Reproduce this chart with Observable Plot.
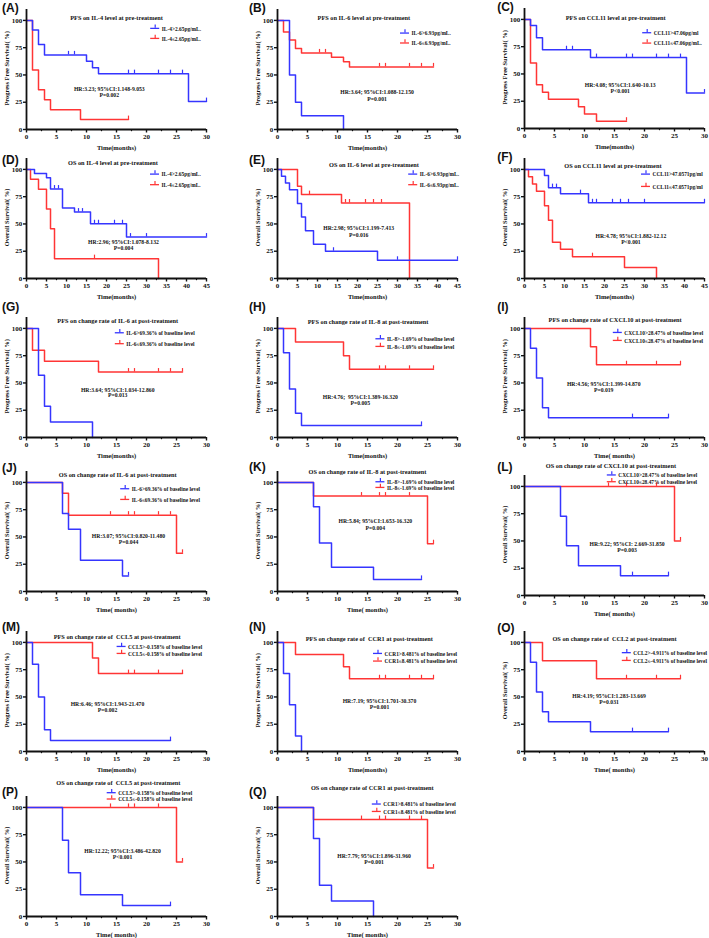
<!DOCTYPE html>
<html><head><meta charset="utf-8">
<script src="https://cdn.jsdelivr.net/npm/d3@7"></script>
<script src="https://cdn.jsdelivr.net/npm/@observablehq/plot@0.6"></script>
<style>
html,body{margin:0;padding:0;background:#fff;overflow:hidden}
#fig{position:relative;width:709px;height:938px;overflow:hidden;background:#fff}
</style></head><body><div id="fig"></div>
<script>
// ---------- Kaplan–Meier data (t = event times, s = survival %, c = censor times) ----------
const A_hi = {t:[0,1,2,3,10,11,12,27], s:[100,91.1,77.9,68.4,62.6,56.7,51.2,25.6], c:[7,8,17,18,22,24,26,30]};
const A_lo = {t:[0,1,2,3,4,9], s:[100,54.5,36.4,27.3,18.2,9.1], c:[17]};
const B_hi = {t:[0,2,3,4,11], s:[100,50,25,12.5,0], c:[]};
const B_lo = {t:[0,1,2,3,4,9,11,12], s:[100,89.3,82,74.2,70.2,66.3,62,57.4], c:[7,8,17,18,22,24,26]};
const C_hi = {t:[0,1,2,3,11,27], s:[100,94.4,83.3,72.2,65,32.5], c:[7,8,12,17,18,22,24,26,30]};
const C_lo = {t:[0,1,2,3,4,9,10,12], s:[100,60,40,33.3,26.7,20,13.3,6.7], c:[17]};
const D_hi = {t:[0,2,5,6,9,12,16,25], s:[100,96.2,92.3,82,64.6,60.9,50.2,38], c:[7,8,13,14,17,18,22,24,26,30,45]};
const D_lo = {t:[0,1,3,5,6,7,33], s:[100,90.9,81.8,63.6,45.5,18.2,0], c:[17]};
const E_hi = {t:[0,1,2,3,5,6,7,9,12,25], s:[100,93.8,87.5,81.3,68.8,56.3,43.8,31.3,25,16.7], c:[14,30,45]};
const E_lo = {t:[0,5,6,16,33], s:[100,84.6,76.9,69.2,0], c:[8,17,18,22,24,26]};
const F_hi = {t:[0,5,6,9,16], s:[100,94.4,83.3,77.8,69.4], c:[7,8,14,17,18,22,24,26,30,45]};
const F_lo = {t:[0,1,2,3,5,6,7,9,12,25,33], s:[100,93.3,86.7,80,66.7,53.3,33.3,26.7,20,10,0], c:[17]};
const G_hi = {t:[0,2,3,4,11], s:[100,57.1,28.6,14.3,0], c:[]};
const G_lo = {t:[0,1,3,12], s:[100,80,70,60], c:[17,18,22,24,26]};
const H_hi = {t:[0,1,2,3,4], s:[100,77.8,44.4,22.2,11.1], c:[24]};
const H_lo = {t:[0,3,11,12], s:[100,87.5,75,62.5], c:[17,18,22,26]};
const I_hi = {t:[0,1,2,3,4], s:[100,81.8,54.5,27.3,18.2], c:[18,24]};
const I_lo = {t:[0,11,12], s:[100,83.3,66.7], c:[17,22,26]};
const J_hi = {t:[0,6,7,9,16], s:[100,71.4,57.1,28.6,14.3], c:[17]};
const J_lo = {t:[0,6,7,25], s:[100,90,70,35], c:[14,17,18,22,24,26]};
const K_hi = {t:[0,6,7,9,16], s:[100,77.8,44.4,22.2,11.1], c:[24]};
const K_lo = {t:[0,6,25], s:[100,87.5,43.8], c:[14,17,18,22,26]};
const L_hi = {t:[0,6,7,9,16], s:[100,72.7,45.5,27.3,18.2], c:[18,24]};
const L_lo = {t:[0,25], s:[100,50], c:[14,17,22,26]};
const M_hi = {t:[0,1,2,3,4], s:[100,80,50,20,10], c:[24]};
const M_lo = {t:[0,11,12], s:[100,85.7,71.4], c:[17,18,22,26]};
const N_hi = {t:[0,1,2,3,4], s:[100,71.4,42.9,14.3,0], c:[]};
const N_lo = {t:[0,3,11,12], s:[100,88.9,77.8,66.7], c:[17,18,22,24,26]};
const O_hi = {t:[0,1,2,3,4,11], s:[100,81.8,54.5,36.4,27.3,18.2], c:[18,24]};
const O_lo = {t:[0,3,12], s:[100,83.3,66.7], c:[17,22,26]};
const P_hi = {t:[0,6,7,9,16], s:[100,70,40,20,10], c:[24]};
const P_lo = {t:[0,25], s:[100,50], c:[14,17,18,22,26]};
const Q_hi = {t:[0,6,7,9,16], s:[100,71.4,28.6,14.3,0], c:[]};
const Q_lo = {t:[0,6,25], s:[100,88.9,44.4], c:[14,17,18,22,24,26]};

const seriesHi = [A_hi,B_hi,C_hi,D_hi,E_hi,F_hi,G_hi,H_hi,I_hi,J_hi,K_hi,L_hi,M_hi,N_hi,O_hi,P_hi,Q_hi];
const seriesLo = [A_lo,B_lo,C_lo,D_lo,E_lo,F_lo,G_lo,H_lo,I_lo,J_lo,K_lo,L_lo,M_lo,N_lo,O_lo,P_lo,Q_lo];

// ---------- texts ----------
const panelIds = ["A","B","C","D","E","F","G","H","I","J","K","L","M","N","O","P","Q"];
const titles = [
 "PFS on IL-4 level at pre-treatment","PFS on IL-6 level at pre-treatment","PFS on CCL11 level at pre-treatment",
 "OS on IL-4 level at pre-treatment","OS on IL-6 level at pre-treatment","OS on CCL11 level at pre-treatment",
 "PFS on change rate of IL-6 at post-treatment","PFS on change rate of IL-8 at post-treatment","PFS on change rate of CXCL10 at post-treatment",
 "OS on change rate of IL-6 at post-treatment","OS on change rate of IL-8 at post-treatment","OS on change rate of CXCL10 at post-treatment",
 "PFS on change rate of  CCL5 at post-treatment","PFS on change rate of  CCR1 at post-treatment","OS on change rate of  CCL2 at post-treatment",
 "OS on change rate of  CCL5 at post-treatment","OS on change rate of CCR1 at post-treatment"];
const hiLabels = ["IL-4>2.65pg/mL.","IL-6>6.93pg/mL.","CCL11>47.06pg/ml","IL-4>2.65pg/mL.","IL-6>6.93pg/mL.","CCL11>47.0571pg/ml",
 "IL-6>69.36% of baseline level","IL-8>-1.69% of baseline level","CXCL10>28.47% of baseline level",
 "IL-6>69.36% of baseline level","IL-8>-1.69% of baseline level","CXCL10>28.47% of baseline level",
 "CCL5>-0.158% of baseline level","CCR1>8.481% of baseline level","CCL2>-4.911% of baseline level",
 "CCL5>-0.158% of baseline level","CCR1>8.481% of baseline level"];
const loLabels = ["IL-4≤2.65pg/mL.","IL-6≤6.93pg/mL.","CCL11≤47.06pg/mL.","IL-4≤2.65pg/mL.","IL-6≤6.93pg/mL.","CCL11≤47.0571pg/ml",
 "IL-6≤69.36% of baseline level","IL-8≤-1.69% of baseline level","CXCL10≤28.47% of baseline level",
 "IL-6≤69.36% of baseline level","IL-8≤-1.69% of baseline level","CXCL10≤28.47% of baseline level",
 "CCL5≤-0.158% of baseline level","CCR1≤8.481% of baseline level","CCL2≤-4.911% of baseline level",
 "CCL5≤-0.158% of baseline level","CCR1≤8.481% of baseline level"];
const hrTexts = ["HR:3.23; 95%CI:1.148-9.053","HR:3.64; 95%CI:1.088-12.150","HR:4.08; 95%CI:1.640-10.13",
 "HR:2.96; 95%CI:1.078-8.132","HR:2.98; 95%CI:1.199-7.413","HR:4.78; 95%CI:1.882-12.12",
 "HR:3.64; 95%CI:1.034-12.860","HR:4.76;  95%CI:1.389-16.320","HR:4.56; 95%CI:1.399-14.870",
 "HR:3.07; 95%CI:0.820-11.480","HR:5.84; 95%CI:1.653-16.320","HR:9.22; 95%CI: 2.669-31.850",
 "HR:6.46; 95%CI:1.943-21.470","HR:7.19; 95%CI:1.701-30.370","HR:4.19; 95%CI:1.283-13.669",
 "HR:12.22; 95%CI:3.486-42.820","HR:7.79; 95%CI:1.896-31.960"];
const pTexts = ["P=0.002","P=0.001","P<0.001","P=0.004","P=0.016","P<0.001","P=0.013","P=0.005","P=0.019",
 "P=0.044","P=0.004","P=0.003","P=0.002","P=0.001","P=0.031","P<0.001","P=0.001"];
const kinds = ["PFS","PFS","PFS","OS","OS","OS","PFS","PFS","PFS","OS","OS","OS","PFS","PFS","OS","OS","OS"];
const xMax = [30,30,30,45,45,45,30,30,30,30,30,30,30,30,30,30,30];
const xLabels = ["Time(months)","Time(months)","Time(months)","Time(months)","Time(months)","Time(months)",
 "Time(months)","Time(months)","Time( months)","Time( months)","Time( months)","Time( months)",
 "Time(months)","Time(months)","Time( months)","Time( months)","Time( months)"];
const yLabels = {PFS:"Progress Free Survival( %)", OS:"Overall Survival( %)"};

// ---------- layout (pixels for frame origin; annotation anchors in data units) ----------
const colX0 = [26, 276.7, 524];
const rowY0 = [128.5, 278.3, 436.7, 590.7, 751.3, 916.3];
const panelCol = [0,1,2,0,1,2,0,1,2,0,1,2,0,1,2,0,1];
const panelRow = [0,0,0,1,1,1,2,2,2,3,3,3,4,4,4,5,5];
const panelY0Fix = {C:128, L:595};
const letterDx = [-24.5, -28.4, -27.3];
const letterY = [111.5,111.5,111.3,108.5,108.5,111.6,119.3,119.3,119.3,112.8,113.7,117.7,114.3,114.3,112.8,114.3,114.3];
const titlePos = [[15,102.2],[14.4,102.2],[15.2,101.6],[21.6,105.5],[24.1,103.7],[22.1,103],[15.2,106.7],[15.1,105.5],[15.1,107.7],
 [15.2,107],[15,109.8],[14.4,118.3],[15.1,105],[15.3,103.1],[15,103.1],[15.3,122],[15.8,117.8]];
const legendPos = [[20.7,92.7,83.5],[20.5,88.4,79.3],[19.7,87.8,78.3],[31,95.7,86],[32.8,95.7,86],[29.25,95.7,84.4],
 [14.8,96,86],[16.4,90.5,83.5],[14.8,96.3,89],[15.7,94.2,84.4],[16.4,100.6,95.4],[13.8,110.5,104.3],
 [15.1,96.3,89.9],[16,89.9,82.9],[16.3,90.6,83.5],[13.45,113.5,107.7],[15.8,103.1,96.3]];
const hrPos = [[13.8,37.1,31.6],[16.6,33.9,27.9],[15.95,39.4,33.9],[24.25,33.3,27.5],[20.3,46.5,40.1],[26.6,39.2,33.3],
 [15.2,43.8,38.5],[13.8,37,31.8],[13.2,49,43.5],[17,50.5,45],[16.3,64.9,58.4],[17.1,47.2,41.7],
 [13.5,43.5,38],[17,46.2,40.4],[14.1,51.1,45.6],[16,59.6,54.1],[16.1,55.7,50.2]];

const BLUE = "#3535ff", RED = "#ff3535";
const SERIF = "'Liberation Serif','Times New Roman',serif";
const mL = 26, mR = 5, mT = 22, mB = 24, FW = 180, FH = 120;

function stepPoints(ser) {
  const pts = ser.t.map((t, i) => ({t, s: ser.s[i]}));
  const end = Math.max(ser.t[ser.t.length - 1], ...ser.c);
  pts.push({t: end, s: ser.s[ser.s.length - 1]});
  return pts;
}
function survAt(ser, time) {
  let v = ser.s[0];
  for (let i = 0; i < ser.t.length; i++) if (ser.t[i] <= time) v = ser.s[i];
  return v;
}
function censors(ser) { return ser.c.map(c => ({t: c, s: survAt(ser, c)})); }

const fig = document.getElementById("fig");

panelIds.forEach((id, i) => {
  const xmax = xMax[i];
  const col = panelCol[i];
  const x0 = colX0[col];
  const y0 = panelY0Fix[id] ?? rowY0[panelRow[i]];
  const u = xmax / FW; // months per pixel
  const step = 5;
  const major = d3.range(0, xmax + 0.01, step);
  const minor = d3.range(step / 2, xmax, step);
  const hi = seriesHi[i], lo = seriesLo[i];
  const [lx, ly1, ly2] = legendPos[i];
  const [hx, hy, py] = hrPos[i];
  const [tx, ty] = titlePos[i];
  const legSym = (ly, color) => [
    Plot.ruleY([ly], {x1: lx, x2: lx + 9 * u, stroke: color, strokeWidth: 1.3}),
    Plot.ruleX([lx + 4.5 * u], {y1: ly, y2: ly + 3, stroke: color, strokeWidth: 1.2})
  ];
  const svg = Plot.plot({
    width: mL + FW + mR, height: mT + FH + mB,
    marginLeft: mL, marginRight: mR, marginTop: mT, marginBottom: mB,
    x: {domain: [0, xmax]},
    y: {domain: [0, 110]},
    style: {fontFamily: SERIF, fontSize: "7px", fontWeight: "bold", background: "transparent", overflow: "visible", color: "#111"},
    marks: [
      Plot.axisX({ticks: major, tickSize: 3.5, tickPadding: 1.2, tickFormat: d => String(d), label: null, strokeWidth: 1.4}),
      Plot.axisX({ticks: minor, tickSize: 2.2, tickFormat: () => "", label: null, strokeWidth: 1.2}),
      Plot.axisY({ticks: [0, 25, 50, 75, 100], tickSize: 3, tickPadding: 1.3, tickFormat: d => String(d), label: null, strokeWidth: 1.4}),
      Plot.line(stepPoints(lo), {x: "t", y: "s", curve: "step-after", stroke: RED, strokeWidth: 1.5}),
      Plot.ruleX(censors(lo), {x: "t", y1: "s", y2: d => d.s + 3.2, stroke: RED, strokeWidth: 1.2}),
      Plot.line(stepPoints(hi), {x: "t", y: "s", curve: "step-after", stroke: BLUE, strokeWidth: 1.5}),
      Plot.ruleX(censors(hi), {x: "t", y1: "s", y2: d => d.s + 3.2, stroke: BLUE, strokeWidth: 1.2}),
      Plot.ruleX([0], {stroke: "#111", strokeWidth: 1.8}),
      Plot.ruleY([0], {stroke: "#111", strokeWidth: 1.8}),
      ...legSym(ly1, BLUE),
      ...legSym(ly2, RED),
      Plot.text([hiLabels[i]], {x: lx, y: ly1, dx: 11, dy: 0.5, text: d => d, textAnchor: "start", fontSize: 5.4}),
      Plot.text([loLabels[i]], {x: lx, y: ly2, dx: 11, dy: 0.5, text: d => d, textAnchor: "start", fontSize: 5.4}),
      Plot.text([hrTexts[i]], {x: hx, y: hy, text: d => d, fontSize: 5.7}),
      Plot.text([pTexts[i]], {x: hx, y: py, text: d => d, fontSize: 5.7}),
      Plot.text([titles[i]], {x: tx, y: ty, text: d => d, fontSize: 6.3}),
      Plot.text([xLabels[i]], {x: xmax / 2, y: 0, dy: 18, text: d => d, fontSize: 6.5}),
      Plot.text([yLabels[kinds[i]]], {x: 0, y: 56, dx: -20, rotate: -90, text: d => d, fontSize: 6.4}),
      Plot.text(["(" + id + ")"], {x: 0, y: letterY[i], dx: letterDx[col], text: d => d, textAnchor: "start",
        fontFamily: "'Liberation Sans',Arial,sans-serif", fontWeight: "bold", fontSize: 12})
    ]
  });
  svg.style.position = "absolute";
  svg.style.left = (x0 - mL) + "px";
  svg.style.top = (y0 - FH - mT) + "px";
  svg.style.maxWidth = "none";
  fig.appendChild(svg);
});
</script></body></html>
